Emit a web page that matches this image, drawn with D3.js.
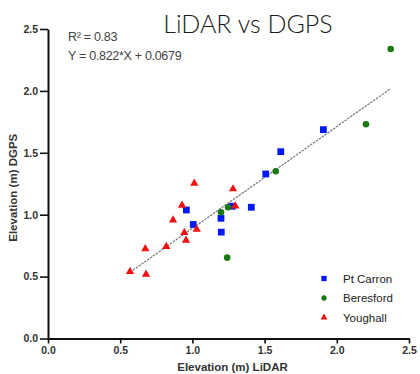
<!DOCTYPE html>
<html>
<head>
<meta charset="utf-8">
<script src="https://cdn.jsdelivr.net/npm/d3@7"></script>
<style>
  body { margin: 0; background: #fff; }
  svg { display: block; }
</style>
</head>
<body>
<div id="chart"></div>
<script>
// LiDAR (x) vs DGPS (y) elevations
const ptCarronX = [0.958, 1.006, 1.198, 1.200, 1.276, 1.408, 1.508, 1.612, 1.907];
const ptCarronY = [1.038, 0.921, 0.971, 0.859, 1.068, 1.060, 1.329, 1.509, 1.687];
const beresfordX = [1.198, 1.247, 1.241, 1.577, 2.202, 2.373];
const beresfordY = [1.019, 1.060, 0.653, 1.351, 1.730, 2.338];
const youghallX = [0.568, 0.679, 0.674, 0.819, 0.866, 0.928, 0.944, 0.956, 1.030, 1.013, 1.281, 1.297];
const youghallY = [0.540, 0.519, 0.725, 0.742, 0.957, 1.076, 0.855, 0.793, 0.882, 1.254, 1.208, 1.070];

const seriesNames = ["Pt Carron", "Beresford", "Youghall"];
const tickValues = [0, 0.5, 1.0, 1.5, 2.0, 2.5];
const fitSlope = 0.822;
const fitIntercept = 0.0679;
const annotationLines = ["R\u00b2 = 0.83", "Y = 0.822*X + 0.0679"];

const W = 420, H = 374;
const svg = d3.select("#chart").append("svg")
    .attr("width", W)
    .attr("height", H);

const x = d3.scaleLinear().domain([0, 2.5]).range([48, 409]);
const y = d3.scaleLinear().domain([0, 2.5]).range([338.5, 29]);

const series = [
    { name: seriesNames[0], xs: ptCarronX, ys: ptCarronY, color: "#0019f5", shape: d3.symbolSquare, size: 46, legSize: 28 },
    { name: seriesNames[1], xs: beresfordX, ys: beresfordY, color: "#1a7a12", shape: d3.symbolCircle, size: 34, legSize: 22 },
    { name: seriesNames[2], xs: youghallX, ys: youghallY, color: "#f01010", shape: d3.symbolTriangle, size: 30, legSize: 20 }
];

// axes
const fmt = d3.format(".1f");
const xAxis = svg.append("g")
    .attr("transform", `translate(0,${y(0)})`)
    .call(d3.axisBottom(x).tickValues(tickValues).tickFormat(fmt).tickSize(5).tickSizeOuter(0).tickPadding(3));
const yAxis = svg.append("g")
    .attr("transform", `translate(${x(0)},0)`)
    .call(d3.axisLeft(y).tickValues(tickValues).tickFormat(fmt).tickSize(8).tickSizeOuter(0).tickPadding(2));

[xAxis, yAxis].forEach(a => {
    a.select(".domain").attr("stroke", "#111").attr("stroke-width", 2);
    a.selectAll(".tick line").attr("stroke", "#111").attr("stroke-width", 1.6);
    a.selectAll(".tick text")
        .attr("fill", "#333")
        .style("font-family", "'Liberation Sans', Arial, sans-serif")
        .style("font-weight", "bold")
        .style("font-size", "10.5px");
});

svg.append("text")
    .attr("x", (x(0) + x(2.5)) / 2 + 4)
    .attr("y", 371)
    .attr("text-anchor", "middle")
    .attr("fill", "#333")
    .style("font-family", "'Liberation Sans', Arial, sans-serif")
    .style("font-weight", "bold")
    .style("font-size", "11.5px")
    .text("Elevation (m) LiDAR");

svg.append("text")
    .attr("transform", `translate(17,${(y(0) + y(2.5)) / 2 + 4}) rotate(-90)`)
    .attr("text-anchor", "middle")
    .attr("fill", "#333")
    .style("font-family", "'Liberation Sans', Arial, sans-serif")
    .style("font-weight", "bold")
    .style("font-size", "11.5px")
    .text("Elevation (m) DGPS");

// regression line over the range of the data
const allX = ptCarronX.concat(beresfordX, youghallX);
const [x0, x1] = d3.extent(allX);
svg.append("line")
    .attr("x1", x(x0)).attr("y1", y(fitSlope * x0 + fitIntercept))
    .attr("x2", x(x1)).attr("y2", y(fitSlope * x1 + fitIntercept))
    .attr("stroke", "#777")
    .attr("stroke-width", 1.2)
    .attr("stroke-dasharray", "2.5,1");

// points
series.forEach(s => {
    svg.append("g").selectAll("path")
        .data(d3.zip(s.xs, s.ys))
        .enter()
        .append("path")
        .attr("transform", d => `translate(${x(d[0])},${y(d[1])})`)
        .attr("d", d3.symbol().type(s.shape).size(s.size))
        .attr("fill", s.color);
});

// fit annotation
svg.append("g").selectAll("text")
    .data(annotationLines)
    .enter()
    .append("text")
    .attr("x", 68)
    .attr("y", (d, i) => 40.5 + i * 19.5)
    .attr("fill", "#444")
    .style("font-family", "'Liberation Sans', Arial, sans-serif")
    .style("font-size", "12.5px")
    .style("letter-spacing", "-0.3px")
    .text(d => d);

// title
svg.append("text")
    .attr("x", 248)
    .attr("y", 33)
    .attr("text-anchor", "middle")
    .attr("fill", "#1a1a1a")
    .style("font-family", "Lato, 'Open Sans', sans-serif")
    .style("font-weight", 300)
    .style("font-size", "25px")
    .text("LiDAR vs DGPS");

// legend
const legend = svg.append("g").selectAll("g")
    .data(series)
    .enter()
    .append("g")
    .attr("transform", (d, i) => `translate(324,${278.5 + i * 19.5})`);

legend.append("path")
    .attr("d", d => d3.symbol().type(d.shape).size(d.legSize)())
    .attr("fill", d => d.color);

legend.append("text")
    .attr("x", 19)
    .attr("y", 4)
    .attr("fill", "#222")
    .style("font-family", "'Liberation Sans', Arial, sans-serif")
    .style("font-size", "11.5px")
    .text(d => d.name);
</script>
</body>
</html>
